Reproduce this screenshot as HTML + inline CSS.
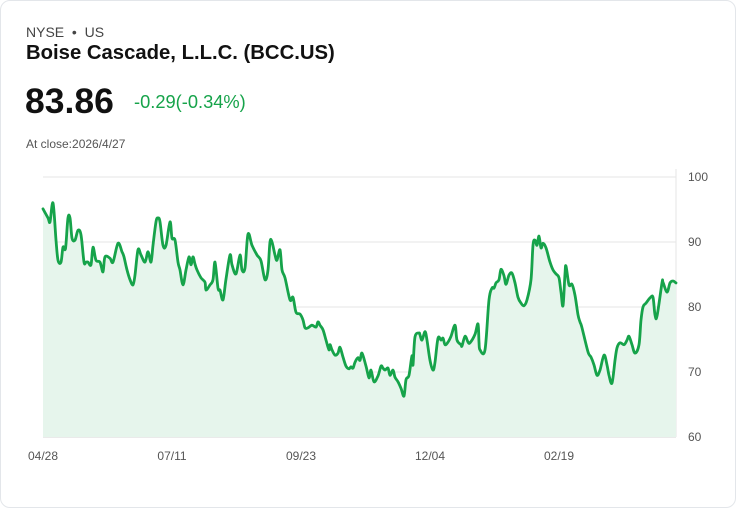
<!DOCTYPE html>
<html><head><meta charset="utf-8"><style>
body{margin:0;background:#fff;font-family:"Liberation Sans",sans-serif;}
.card{position:absolute;left:0;top:0;width:734px;height:506px;border:1px solid #e3e6ea;border-radius:10px;background:#fff;}
.t{position:absolute;white-space:nowrap;}
</style></head><body>
<div class="card">
<div class="t" style="left:25px;top:23px;font-size:14px;color:#444;">NYSE &nbsp;•&nbsp; US</div>
<div class="t" style="left:25px;top:41px;font-size:20.3px;font-weight:bold;color:#111;">Boise Cascade, L.L.C. (BCC.US)</div>
<div class="t" style="left:24px;top:80px;font-size:35.5px;font-weight:bold;color:#111;">83.86</div>
<div class="t" style="left:133px;top:90px;font-size:18.3px;color:#16a34a;">-0.29(-0.34%)</div>
<div class="t" style="left:25px;top:136px;font-size:12px;color:#555;">At close:2026/4/27</div>
<svg id="chart" width="736" height="508" style="position:absolute;left:-1px;top:-1px"></svg>
</div>
<script>
const offsets=[0,5,7,10,13,15,18,20,22,23,25,27,29,32,35,38,41,43,45,48,50,53,57,60,62,67,70,75,79,81,84,87,90,92,95,98,102,105,108,110,113,115,117,120,123,127,129,132,135,137,140,143,146,148,150,152,154,158,162,163,167,170,172,175,177,180,183,187,189,193,197,199,202,205,209,214,218,222,225,227,229,232,234,237,239,242,247,250,253,257,260,262,265,269,273,275,277,280,283,286,287,289,292,295,297,300,303,306,308,310,312,315,317,319,323,326,328,331,335,338,340,342,345,347,350,352,355,358,361,363,366,369,370,372,376,377,379,382,384,387,390,392,395,398,400,402,405,408,412,414,418,419,422,425,427,432,435,436,437,442,446,449,451,453,456,458,461,463,466,469,472,475,478,481,484,488,490,492,494,496,498,500,503,507,510,513,516,518,520,522,523,526,529,532,535,537,539,545,548,551,554,557,561,564,566,569,572,574,577,581,584,586,589,592,596,598,600,603,607,610,612,614,619,620,624,627,630,633];
const prices=[95.1,93.7,93.1,96.0,90.3,87.2,86.9,89.2,88.8,89.7,93.7,93.7,90.6,90.3,91.8,91.1,86.9,86.9,86.9,86.5,89.2,87.2,86.9,85.4,87.7,87.5,86.9,89.8,88.5,87.7,85.7,84.2,83.4,84.9,88.8,88.0,86.9,88.5,86.9,89.5,93.1,93.7,93.1,89.5,89.5,93.1,90.6,90.3,86.9,85.7,83.4,85.7,87.7,86.5,87.7,86.6,85.7,84.5,83.8,82.6,83.4,84.2,86.9,82.9,82.6,81.1,84.3,88.0,86.5,85.1,88.0,85.7,86.0,91.2,89.5,88.0,87.1,84.2,85.7,90.0,90.0,88.0,87.2,88.8,85.7,84.5,81.1,81.5,79.2,78.9,78.0,76.8,76.8,77.2,76.9,77.7,77.2,76.5,74.9,73.4,74.2,73.4,72.6,72.9,73.8,72.3,70.9,70.5,70.8,70.6,71.5,72.2,71.8,72.9,70.9,69.1,70.3,68.5,69.4,70.9,70.6,70.3,70.6,69.5,70.3,69.2,68.5,67.5,66.3,68.8,69.5,72.5,71.1,75.4,76.0,75.7,74.9,76.2,74.9,71.8,70.3,71.5,75.2,74.9,75.2,74.2,74.6,75.5,77.2,74.9,74.2,74.0,75.5,74.6,74.5,75.8,77.4,74.6,73.4,73.4,81.1,82.9,82.9,83.7,84.2,85.8,84.8,83.5,84.9,85.2,83.7,81.5,80.6,80.2,81.1,84.2,89.5,90.3,89.5,90.9,89.1,89.8,89.1,86.9,85.7,85.1,84.5,82.3,80.2,85.1,86.3,83.4,83.5,81.8,78.8,77.7,76.8,73.1,72.3,71.1,69.5,70.3,72.6,71.1,69.5,68.3,71.8,73.7,74.5,74.2,74.9,75.5,74.2,72.9,74.2,78.0,80.0,80.6,81.4,81.5,78.8,78.6,83.7,83.8,82.3,83.7,84.0,83.7];
const yTicks=[100,90,80,70,60];
const xTickLabels=["04/28","07/11","09/23","12/04","02/19"];
const xTickOffsets=[0,129,258,387,516];
const svg=document.getElementById('chart');
const NS='http://www.w3.org/2000/svg';
const X0=43,X1=676,Y0=177,Y1=437;
const xS=d=>X0+d*(X1-X0)/633;
const yS=v=>Y0+(100-v)*(Y1-Y0)/40;
function mk(tag,at){const e=document.createElementNS(NS,tag);for(const k in at)e.setAttribute(k,at[k]);svg.appendChild(e);return e;}
yTicks.forEach(v=>{
 const l=mk('line',{x1:X0,x2:X1,y1:yS(v),y2:yS(v),stroke:v===60?'#d4d4d4':'#e6e6e6','stroke-width':1});
 
 
 const t=mk('text',{x:688,y:yS(v)+4,'font-size':12,fill:'#555','font-family':'Liberation Sans, sans-serif'});
 t.textContent=v;
 
 
});
const ax=mk('line',{x1:X1,x2:X1,y1:Y0-8,y2:Y1,stroke:'#e6e6e6','stroke-width':1});


xTickLabels.forEach((s,i)=>{
 const t=mk('text',{x:xS(xTickOffsets[i]),y:460,'font-size':12,fill:'#555','text-anchor':'middle','font-family':'Liberation Sans, sans-serif'});
 t.textContent=s;
 
 
});
const pts=prices.map((p,i)=>[xS(offsets[i]),yS(p)]);
let d='M'+pts[0][0].toFixed(1)+','+pts[0][1].toFixed(1);
for(let i=0;i<pts.length-1;i++){
 const p0=pts[Math.max(0,i-1)],p1=pts[i],p2=pts[i+1],p3=pts[Math.min(pts.length-1,i+2)];
 const c1x=p1[0]+(p2[0]-p0[0])/6,c1y=p1[1]+(p2[1]-p0[1])/6;
 const c2x=p2[0]-(p3[0]-p1[0])/6,c2y=p2[1]-(p3[1]-p1[1])/6;
 d+='C'+c1x.toFixed(1)+','+c1y.toFixed(1)+' '+c2x.toFixed(1)+','+c2y.toFixed(1)+' '+p2[0].toFixed(1)+','+p2[1].toFixed(1);
}
const area=mk('path',{d:d+'L'+pts[pts.length-1][0]+','+Y1+'L'+pts[0][0]+','+Y1+'Z',fill:'#e6f5ec'});


const line=mk('path',{d:d,fill:'none',stroke:'#16a34a','stroke-width':2.8,'stroke-linejoin':'round','stroke-linecap':'round'});


</script>
</body></html>
